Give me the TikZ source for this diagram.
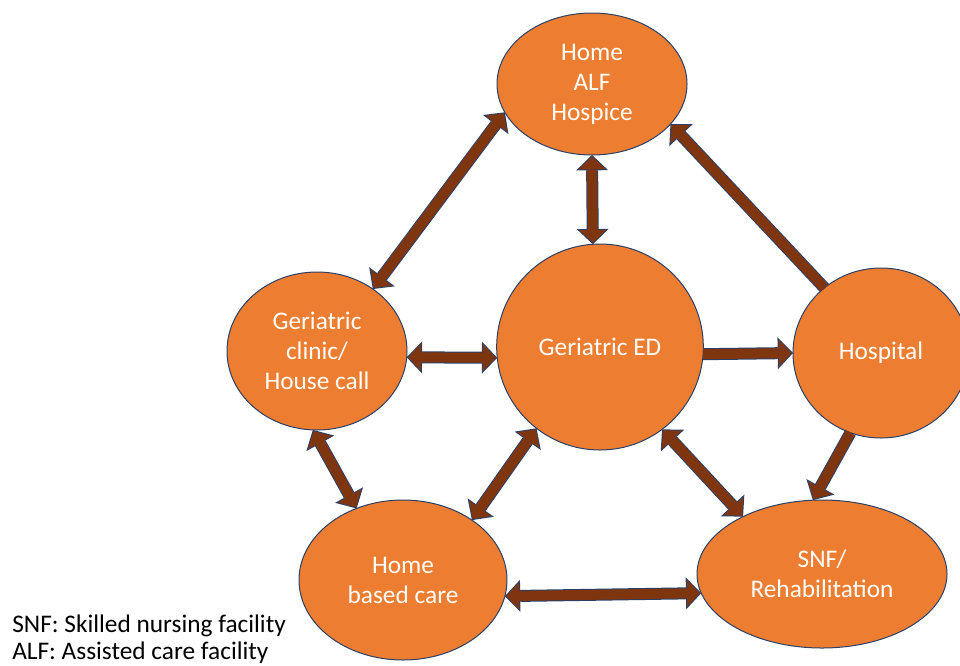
\documentclass[tikz,border=0pt]{standalone}
\usepackage{fontspec}
\setmainfont{Carlito}
\usepackage{tikz}
\usetikzlibrary{shapes, arrows.meta}
\definecolor{placeorange}{HTML}{ED7D31}
\definecolor{edgeblue}{HTML}{2A4068}
\definecolor{flowbrown}{HTML}{7F360E}
\tikzstyle{place} = [ellipse, draw=edgeblue, line width=0.75pt, fill=placeorange, text=white, align=center, inner sep=0pt, outer sep=0pt, font=\fontsize{19}{22.5}\selectfont]
\tikzstyle{note} = [anchor=base west, inner sep=0pt, font=\fontsize{19}{22.5}\selectfont]
\tikzstyle{oneway} = [draw=edgeblue, line width=9pt, -{Triangle[length=11.5pt, width=24pt, line width=0pt]}, postaction={draw=flowbrown, line width=7.5pt, shorten >=1.04pt, -{Triangle[length=9.7pt, width=20.3pt, line width=0pt]}}]
\tikzstyle{twoway} = [draw=edgeblue, line width=9pt, {Triangle[length=11.5pt, width=24pt, line width=0pt]}-{Triangle[length=11.5pt, width=24pt, line width=0pt]}, postaction={draw=flowbrown, line width=7.5pt, shorten >=1.04pt, shorten <=1.04pt, {Triangle[length=9.7pt, width=20.3pt, line width=0pt]}-{Triangle[length=9.7pt, width=20.3pt, line width=0pt]}}]

\begin{document}
\begin{tikzpicture}[x=0.75pt, y=0.75pt]
    \clip (0,0) rectangle (960,-665);
    \node (home) [place, minimum width=142.5pt, minimum height=106.5pt] at (592,-84) {Home\\ALF\\Hospice};
    \node (clinic) [place, minimum width=135pt, minimum height=118.5pt] at (317,-351) {Geriatric\\clinic/\\House call};
    \node (ed) [place, minimum width=155pt, minimum height=154.5pt] at (600,-347) {Geriatric ED};
    \node (hospital) [place, minimum width=132pt, minimum height=127.5pt] at (881,-353) {Hospital};
    \node (homecare) [place, minimum width=156pt, minimum height=120pt] at (403,-580) {Home\\based care};
    \node (snf) [place, minimum width=187.5pt, minimum height=111pt] at (822,-574) {SNF/\\Rehabilitation};

    \node (snfnote) [note] at (12,-632) {SNF: Skilled nursing facility};
    \node (alfnote) [note] at (12,-659) {ALF: Assisted care facility};

    \draw [twoway] (home.198) -- (clinic.48);
    \draw [twoway] (home.270) -- (ed.94);
    \draw [oneway] (hospital.131) -- (home.333);
    \draw [twoway] (clinic.-4) -- (ed.186);
    \draw [oneway] (ed.-4) -- (hospital.180);
    \draw [twoway] (clinic.267) -- (homecare.123);
    \draw [twoway] (ed.232) -- (homecare.41);
    \draw [twoway] (ed.307) -- (snf.144);
    \draw [oneway] (hospital.249) -- (snf.97);
    \draw [twoway] (homecare.-9) -- (snf.189);

\end{tikzpicture}
\end{document}
